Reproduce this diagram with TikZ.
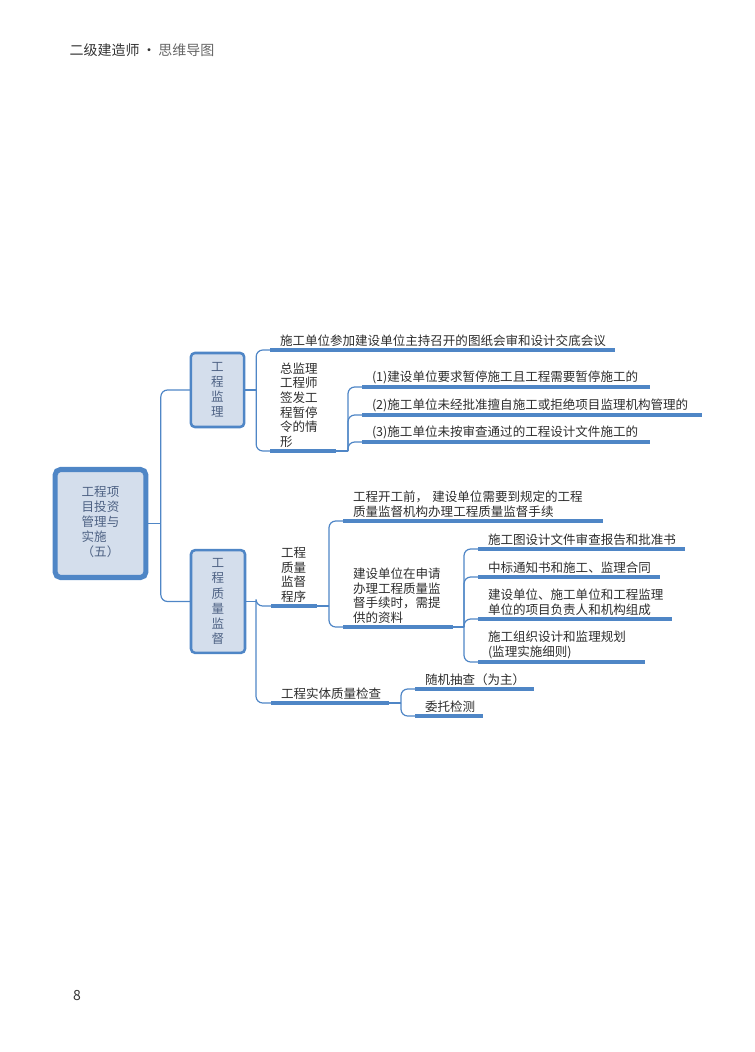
\documentclass[tikz,border=0pt]{standalone}
\usepackage{fontspec}
\setmainfont{Noto Sans CJK SC}
\usetikzlibrary{positioning}
\definecolor{lineblue}{RGB}{79,134,198}
\definecolor{boxfill}{RGB}{212,222,236}
\definecolor{boxtext}{RGB}{78,98,132}
\definecolor{leaftext}{RGB}{45,45,45}
\tikzset{
  conn/.style={draw=lineblue, line width=0.9pt, rounded corners=5pt},
  uline/.style={draw=lineblue, line width=2.3pt},
  topic/.style={draw=lineblue, fill=boxfill, rounded corners=3pt, line width=1.9pt,
    text=boxtext, align=center, inner sep=0pt, outer sep=0pt,
    font=\fontsize{9.4pt}{11.3pt}\selectfont},
  leaf/.style={anchor=south west, align=left, inner xsep=7.5pt, inner ysep=2.5pt,
    outer sep=0pt, text=leaftext, font=\fontsize{9.4pt}{11pt}\selectfont,
    /utils/exec={\pgfmathsetmacro\leafw{#1*0.75-15}}, text width=\leafw pt},
}
\begin{document}
\begin{tikzpicture}[x=0.75pt,y=-0.75pt]
\useasboundingbox (0,0) rectangle (755,1052);
% header and page number
\node[anchor=west, font=\fontsize{10.5pt}{12pt}\selectfont] (title) at (65,50)
  {\textcolor{black!80}{二级建造师}\,\textcolor{black!80}{·}\,\textcolor{black!60}{思维导图}};
\node[font=\fontsize{10.5pt}{12pt}\selectfont, text=black!80] (pageno) at (77,995) {8};

% topics
\node[topic, line width=3.8pt, rounded corners=4pt, minimum width=68pt, minimum height=81pt]
  (root) at (100.5,523.5) {\begin{tabular}{@{}l@{}}工程项\\目投资\\管理与\\实施\\（五）\end{tabular}};
\node[topic, minimum width=40pt, minimum height=55.5pt] (sup) at (217.5,390)
  {工\\程\\监\\理};
\node[topic, minimum width=40.5pt, minimum height=77pt] (qual) at (218,601.5)
  {工\\程\\质\\量\\监\\督};

% leaves of 工程监理
\node[leaf=345] (drw) at (270,350) {施工单位参加建设单位主持召开的图纸会审和设计交底会议};
\node[leaf=66] (halt) at (270,451) {总监理\\工程师\\签发工\\程暂停\\令的情\\形};
\node[leaf=288] (h1) at (362,387) {(1)建设单位要求暂停施工且工程需要暂停施工的};
\node[leaf=340] (h2) at (362,415) {(2)施工单位未经批准擅自施工或拒绝项目监理机构管理的};
\node[leaf=288] (h3) at (362,442) {(3)施工单位未按审查通过的工程设计文件施工的};

% leaves of 工程质量监督
\node[leaf=46] (proc) at (271,606) {工程\\质量\\监督\\程序};
\node[leaf=118] (chk) at (271,703) {工程实体质量检查};
\node[leaf=260] (pre) at (343,521) {工程开工前， 建设单位需要到规定的工程\\质量监督机构办理工程质量监督手续};
\node[leaf=110] (docs) at (343,627) {建设单位在申请\\办理工程质量监\\督手续时，需提\\供的资料};
\node[leaf=207] (d1) at (478,549) {施工图设计文件审查报告和批准书};
\node[leaf=182] (d2) at (478,577) {中标通知书和施工、监理合同};
\node[leaf=194] (d3) at (478,619) {建设单位、施工单位和工程监理\\单位的项目负责人和机构组成};
\node[leaf=167] (d4) at (478,662) {施工组织设计和监理规划\\(监理实施细则)};
\node[leaf=119] (rand) at (415,689) {随机抽查（为主）};
\node[leaf=68] (test) at (415,716) {委托检测};

% underlines
\foreach \n in {drw,halt,h1,h2,h3,proc,chk,pre,docs,d1,d2,d3,d4,rand,test}
  \draw[uline] (\n.south west) -- (\n.south east);

% connectors
\draw[conn] (root.east) -- ++(15,0) coordinate (rj);
\draw[conn] (rj) |- (sup.west);
\draw[conn] (rj) |- (qual.west);
\draw[conn] (sup.east) -- ++(12,0) coordinate (sj);
\foreach \n in {drw,halt}
  \draw[conn] (sj) |- (\n.south west);
\draw[conn] (halt.south east) -- ++(12,0) coordinate (hj);
\foreach \n in {h1,h2,h3}
  \draw[conn] (hj) |- (\n.south west);
\draw[conn] (qual.east) -- ++(11,0) coordinate (qj);
\foreach \n in {proc,chk}
  \draw[conn] (qj) |- (\n.south west);
\draw[conn] (proc.south east) -- ++(12,0) coordinate (pj);
\foreach \n in {pre,docs}
  \draw[conn] (pj) |- (\n.south west);
\draw[conn] (docs.south east) -- ++(11,0) coordinate (dj);
\foreach \n in {d1,d2,d3,d4}
  \draw[conn] (dj) |- (\n.south west);
\draw[conn] (chk.south east) -- ++(12,0) coordinate (cj);
\foreach \n in {rand,test}
  \draw[conn] (cj) |- (\n.south west);
\end{tikzpicture}
\end{document}
